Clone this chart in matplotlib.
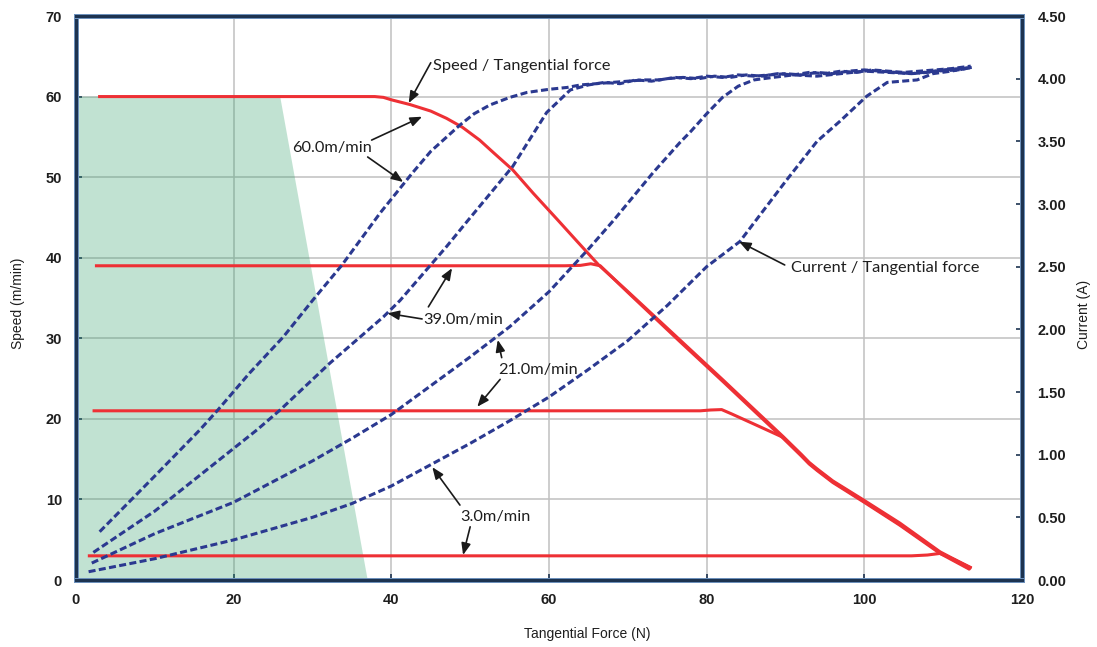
import matplotlib
matplotlib.use("Agg")
import matplotlib.pyplot as plt
import matplotlib.patheffects as pe

# Speed / tangential force (left axis, m/min)
sp_force_60 = [2.8, 37.9, 39, 40, 42.4, 45, 47, 49, 51.2, 53, 55.4, 58, 61, 63.5, 66.3,
               70, 76.6, 82.1, 86, 89.7, 92, 93, 94, 96, 99.9, 104.5, 109.6, 113.6]
sp_60 = [60, 60, 59.9, 59.6, 59.0, 58.2, 57.3, 56.2, 54.6, 53.0, 50.9, 48.0, 44.8, 42.1, 39.1,
         35.8, 29.8, 24.8, 21.2, 17.8, 15.6, 14.6, 13.8, 12.3, 9.93, 7.07, 3.5, 1.45]
sp_force_39 = [2.4, 62, 64, 65.3, 66.5, 70, 76.6, 82.1, 86, 89.7, 92, 93, 94, 96, 99.9, 104.5, 109.6, 113.4]
sp_39 = [39, 39, 39.05, 39.25, 39.0, 35.7, 29.6, 24.6, 21.0, 17.6, 15.4, 14.4, 13.6, 12.1, 9.7, 6.8, 3.3, 1.3]
sp_force_21 = [2.1, 79.2, 80.5, 81.9, 83.2, 86.8, 89.7, 92, 93, 94, 96, 99.9, 104.5, 109.6, 113.5]
sp_21 = [21, 21, 21.1, 21.15, 20.6, 19.0, 17.7, 15.5, 14.5, 13.7, 12.2, 9.8, 6.9, 3.4, 1.35]
sp_force_3 = [1.5, 106, 108, 109.6, 111.5, 113.6]
sp_3 = [3, 3, 3.1, 3.3, 2.5, 1.5]

# Current / tangential force (right axis, A)
cu_force_60 = [3.0, 10, 15.7, 18, 22, 26.3, 30, 33.7, 38.6, 42.7, 45, 48.7, 50.5, 52.5, 55, 57.2, 60,
               62.3, 64, 66, 68, 70, 72, 74, 76, 78, 80, 82, 84, 86, 88, 90, 92, 94, 96, 98,
               100, 102, 104, 106, 108, 110, 112, 113.7]
cu_60 = [0.385, 0.83, 1.197, 1.357, 1.65, 1.94, 2.23, 2.51, 2.93, 3.25, 3.42, 3.63, 3.72, 3.79, 3.85,
         3.89, 3.915, 3.93, 3.95, 3.96, 3.97, 3.98, 3.99, 3.99, 4.01, 4.00, 4.02, 4.01, 4.03, 4.02,
         4.03, 4.04, 4.03, 4.05, 4.04, 4.06, 4.07, 4.06, 4.05, 4.04, 4.05, 4.07, 4.08, 4.09]
cu_force_39 = [2.2, 10, 20, 23, 25.9, 32.2, 39, 41.1, 47, 49.6, 55.4, 59.7, 62.7,
               65, 67, 69, 71, 73, 75, 77, 79, 81, 83, 85, 87, 89, 91, 93, 95, 97, 99, 101,
               103, 105, 107, 109, 111, 113.5]
cu_39 = [0.22, 0.55, 1.05, 1.20, 1.357, 1.73, 2.10, 2.23, 2.66, 2.86, 3.30, 3.73, 3.91,
         3.95, 3.97, 3.96, 3.99, 3.98, 4.00, 4.01, 4.00, 4.02, 4.01, 4.03, 4.02, 4.04, 4.03,
         4.05, 4.04, 4.06, 4.05, 4.07, 4.06, 4.05, 4.06, 4.07, 4.08, 4.10]
cu_force_21 = [2.0, 10, 20, 30, 35, 40, 45, 50, 55, 60, 65, 68.2, 73.2, 76.6, 78, 80, 82,
               84, 86, 88.4, 91, 94, 97, 100, 103, 106, 109, 112, 113.6]
cu_21 = [0.135, 0.37, 0.62, 0.95, 1.13, 1.32, 1.55, 1.78, 2.02, 2.30, 2.64, 2.87, 3.25, 3.49, 3.58,
         3.72, 3.85, 3.94, 3.99, 4.01, 4.03, 4.02, 4.04, 4.06, 4.05, 4.04, 4.06, 4.07, 4.09]
cu_force_3 = [1.6, 10, 20, 30, 35, 40, 45, 50, 55, 60, 65, 70, 75, 80, 84.2, 90, 94,
              96.9, 100.3, 102.9, 106.7, 108.7, 111, 113.7]
cu_3 = [0.066, 0.17, 0.32, 0.50, 0.61, 0.75, 0.92, 1.09, 1.27, 1.46, 1.68, 1.91, 2.19, 2.50, 2.70,
        3.18, 3.50, 3.66, 3.86, 3.97, 3.99, 4.04, 4.06, 4.09]

# Shaded operating region
zone_x = [0, 0, 25.9, 37.0]
zone_y = [0, 60, 60, 0]

x_ticks = [0, 20, 40, 60, 80, 100, 120]
speed_ticks = [0, 10, 20, 30, 40, 50, 60, 70]
current_ticks = [0, 0.5, 1.0, 1.5, 2.0, 2.5, 3.0, 3.5, 4.0, 4.5]

RED = '#ee3035'
BLUE = '#2b3990'
SPINE = '#1d3350'
TXT = '#1e1e1e'
narrow = ['Liberation Sans Narrow', 'Liberation Sans', 'DejaVu Sans']
note_font = ['Lato', 'DejaVu Sans']

fig = plt.figure(figsize=(10.97, 6.47), dpi=100)
ax = fig.add_axes([76 / 1097, 1 - 580 / 647, 946 / 1097, 564 / 647])
ax2 = ax.twinx()

ax.set_xlim(0, 120)
ax.set_ylim(0, 70)
ax2.set_ylim(0, 4.5)

ax.grid(True, color='#c0c0c0', lw=1.1, zorder=0)
ax.set_axisbelow(True)
ax.fill(zone_x, zone_y, color='#34a26c', alpha=0.3, lw=0, zorder=1)

for fx, sy in [(sp_force_60, sp_60), (sp_force_39, sp_39), (sp_force_21, sp_21), (sp_force_3, sp_3)]:
    ax.plot(fx, sy, color=RED, lw=2.2, zorder=3, solid_capstyle='butt', solid_joinstyle='round')

for fx, cy in [(cu_force_60, cu_60), (cu_force_39, cu_39), (cu_force_21, cu_21), (cu_force_3, cu_3)]:
    ax2.plot(fx, cy, color=BLUE, lw=2.2, dashes=(2.3, 1.1), zorder=3)

ax.set_xticks(x_ticks)
ax.set_yticks(speed_ticks)
ax2.set_yticks(current_ticks)
ax2.set_yticklabels(['%.2f' % v for v in current_ticks])

for a in (ax, ax2):
    a.tick_params(direction='in', length=4, width=1.2, color=SPINE, labelcolor=TXT)
    for lab in a.get_xticklabels() + a.get_yticklabels():
        lab.set_family(narrow)
        lab.set_fontsize(10.5)
        lab.set_fontweight('bold')
    for s in a.spines.values():
        s.set_color(SPINE)
        s.set_linewidth(2.2)
        s.set_path_effects([pe.Stroke(linewidth=3.6, foreground='#6f93bf'), pe.Normal()])
        s.set_zorder(5)
ax.tick_params(axis='y', pad=10)
ax.tick_params(axis='x', pad=9)
ax2.tick_params(axis='y', pad=11)

ax.set_xlabel('Tangential Force (N)', family=narrow, fontsize=10, color=TXT, va='center')
ax.set_ylabel('Speed (m/min)', family=narrow, fontsize=10, color=TXT, va='center')
ax2.set_ylabel('Current (A)', family=narrow, fontsize=10, color=TXT, va='center')
ax.xaxis.set_label_coords(0.54, -0.096)
ax.yaxis.set_label_coords(-0.061, 0.49)
ax2.yaxis.set_label_coords(1.066, 0.47)

# Callouts, placed in force / speed coordinates
arrow = dict(arrowstyle='-|>,head_length=0.7,head_width=0.28', color='#1a1a1a', lw=1.2,
             shrinkA=0, shrinkB=0)
notes = [
    ('Speed / Tangential force', (45.3, 63.8), 'left', [((45.0, 64.2), (42.2, 59.2))]),
    ('60.0m/min', (32.5, 53.6), 'center', [((37.5, 54.6), (43.9, 57.5)), ((37.0, 52.5), (41.5, 49.4))]),
    ('39.0m/min', (49.1, 32.3), 'center', [((44.7, 33.9), (47.7, 38.7)), ((43.9, 32.4), (39.5, 33.1))]),
    ('21.0m/min', (58.6, 26.1), 'center', [((54.0, 27.6), (53.5, 29.8)), ((53.8, 24.9), (50.9, 21.5))]),
    ('3.0m/min', (53.2, 7.8), 'center', [((48.7, 9.3), (45.2, 14.0)), ((50.0, 6.6), (49.1, 3.1))]),
    ('Current / Tangential force', (90.7, 38.7), 'left', [((89.9, 39.1), (84.1, 42.0))]),
]
for text, pos, ha, arrows in notes:
    ax2.text(pos[0], pos[1], text, transform=ax.transData, ha=ha, va='center',
             family=note_font, fontsize=11.8, color=TXT, zorder=6)
    for tail, head in arrows:
        ax2.annotate('', xy=head, xytext=tail, xycoords=ax.transData, textcoords=ax.transData,
                     arrowprops=arrow, zorder=6)

fig.savefig('out.png', dpi=100)
